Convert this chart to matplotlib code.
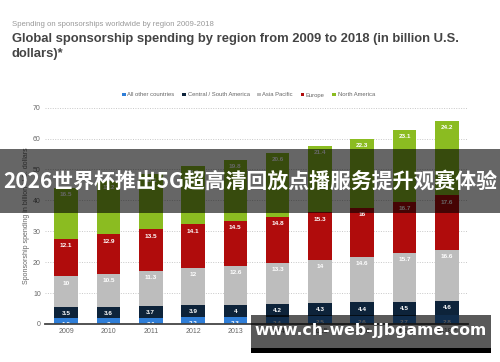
import matplotlib
matplotlib.use("Agg")
import matplotlib.pyplot as plt
from matplotlib.patches import Rectangle
import numpy as np

years = ["2009", "2010", "2011", "2012", "2013", "2014", "2015", "2016", "2017", "2018**"]
series_names = ["All other countries", "Central / South America", "Asia Pacific", "Europe", "North America"]
other = [1.9, 2, 2.1, 2.2, 2.3, 2.4, 2.5, 2.6, 2.7, 2.8]
central_south = [3.5, 3.6, 3.7, 3.9, 4, 4.2, 4.3, 4.4, 4.5, 4.6]
asia_pacific = [10, 10.5, 11.3, 12, 12.6, 13.3, 14, 14.6, 15.7, 16.6]
europe = [12.1, 12.9, 13.5, 14.1, 14.5, 14.8, 15.3, 16, 16.7, 17.6]
north_america = [16.5, 17.2, 18.1, 18.9, 19.8, 20.6, 21.4, 22.3, 23.1, 24.2]
colors = ["#2f7ed8", "#0d233a", "#bdbdbd", "#b00c0c", "#8bbc21"]

series = [other, central_south, asia_pacific, europe, north_america]

plt.rcParams['font.family'] = ['Liberation Sans', 'DejaVu Sans']
fig = plt.figure(figsize=(5, 3.62), dpi=100)
ax = fig.add_axes([0.09, 0.105, 0.846, 0.5975])

x = np.arange(len(years))
bottom = np.zeros(len(years))
for name, vals, c in zip(series_names, series, colors):
    vals = np.array(vals, dtype=float)
    ax.bar(x, vals, bottom=bottom, width=0.56, color=c, label=name, zorder=2)
    for xi, b, v in zip(x, bottom, vals):
        ax.annotate(f"{v:g}", (xi, b + v), xytext=(0, -4.8), textcoords="offset points",
                    ha="center", va="center", fontsize=4.6, color="white",
                    fontweight="bold", zorder=3)
    bottom += vals

ax.set_xlim(-0.5, 9.5)
ax.set_ylim(0, 70)
ax.set_yticks(range(0, 71, 10))
ax.set_xticks(x)
ax.set_xticklabels(years)
ax.tick_params(axis="both", length=0, labelsize=5, colors="#666666", pad=3)
ax.yaxis.grid(True, linestyle=(0, (1, 1.5)), color="#c8c8c8", linewidth=0.7, zorder=0)
for s in ["top", "right", "left"]:
    ax.spines[s].set_visible(False)
ax.spines["bottom"].set_color("#444444")
ax.spines["bottom"].set_linewidth(1.3)
ax.spines["bottom"].set_zorder(4)
ax.set_ylabel("Sponsorship spending in billion U.S. dollars", fontsize=5, color="#666666", labelpad=2)

leg = fig.legend(loc="center", bbox_to_anchor=(0.497, 1 - 95 / 362), ncol=5, frameon=False,
                 fontsize=4.2, handlelength=0.6, handleheight=0.6, handletextpad=0.3,
                 columnspacing=1.3, labelcolor="#666666")

fig.text(12 / 500, 1 - 24 / 362, "Spending on sponsorships worldwide by region 2009-2018",
         fontsize=5.6, color="#999999", va="center", ha="left")
fig.text(12 / 500, 1 - 39 / 362, "Global sponsorship spending by region from 2009 to 2018 (in billion U.S.",
         fontsize=9.4, color="#444444", fontweight="bold", va="center", ha="left")
fig.text(12 / 500, 1 - 54 / 362, "dollars)*",
         fontsize=9.4, color="#444444", fontweight="bold", va="center", ha="left")

# overlay banner
fig.add_artist(Rectangle((0, 1 - 213 / 362), 1, 64 / 362, transform=fig.transFigure,
                         facecolor="black", alpha=0.6, edgecolor="none", zorder=10))
fig.text(0.5, 1 - 181 / 362, "2026世界杯推出5G超高清回放点播服务提升观赛体验",
         family=['Noto Sans CJK SC', 'DejaVu Sans'], fontweight="bold", fontsize=15,
         color="white", ha="center", va="center", zorder=11)

# watermark
fig.add_artist(Rectangle((251 / 500, 1 - 348 / 362), 240 / 500, 33 / 362, transform=fig.transFigure,
                         facecolor="black", alpha=0.65, edgecolor="none", zorder=10))
fig.add_artist(Rectangle((251 / 500, 1 - 353 / 362), 240 / 500, 5 / 362, transform=fig.transFigure,
                         facecolor="black", edgecolor="none", zorder=10))
fig.text(371 / 500, 1 - 331 / 362, "www.ch-web-jjbgame.com",
         family=['DejaVu Sans'], fontweight="bold", fontsize=11.3,
         color="white", ha="center", va="center", zorder=11)

fig.savefig("out.png", dpi=100)
